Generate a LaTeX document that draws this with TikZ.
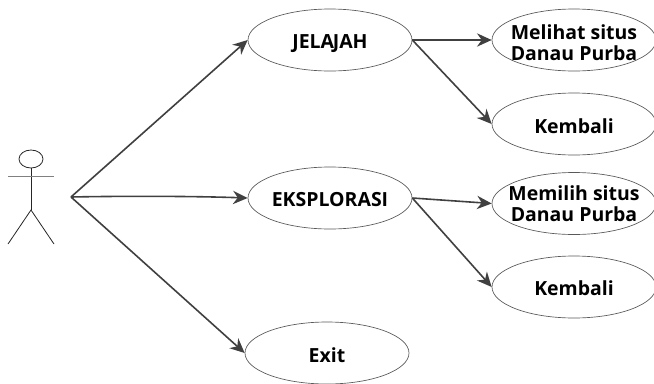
\documentclass[tikz,border=0pt]{standalone}
\usepackage{fontspec}
\setmainfont{Open Sans}
\usetikzlibrary{shapes.geometric,arrows.meta}
\newcommand{\lowtext}[2]{\rule{0pt}{#1pt}#2}
\tikzset{
  usecase/.style={ellipse,draw=black!65,line width=0.5pt,fill=white,inner sep=-18pt,minimum width=123pt,minimum height=46.5pt,align=center,font=\fontsize{14.6}{15.8}\selectfont\bfseries,text=black},
  flow/.style={draw=black!75,line width=1.2pt,-{Stealth[length=11pt,width=10pt]}},
  stick/.style={draw=black!85,line width=0.6pt}
}
\begin{document}
\begin{tikzpicture}[x=0.75pt,y=-0.75pt]
\useasboundingbox (0,0) rectangle (654,383);
\node[usecase] (jelajah) at (330,40) {\lowtext{15.5}{JELA\kern-1pt JAH}};
\node[usecase] (melihat) at (574,40) {\rule{0pt}{14.5pt}Melihat situs\\Danau Purba};
\node[usecase] (kembalia) at (574,124) {\lowtext{15}{Kembali}};
\node[usecase] (eksplorasi) at (330,198) {\lowtext{13.5}{EKSPLORASI}};
\node[usecase] (memilih) at (574,203.5) {\rule{0pt}{12pt}Memilih situs\\Danau Purba};
\node[usecase] (kembalib) at (574,287) {\lowtext{13}{Kembali}};
\node[usecase] (exit) at (327,353) {\lowtext{14}{Exit}};
\node[ellipse,stick,fill=white,inner sep=0pt,minimum width=18pt,minimum height=13.5pt] (head) at (31,159) {};
\coordinate (hip) at (31,210);
\coordinate (armL) at (8,176);
\coordinate (armR) at (54,176);
\coordinate (legL) at (8,244);
\coordinate (legR) at (54,244);
\coordinate (src) at (71,197);
\draw[stick] (head.south) -- (hip);
\draw[draw=black!50,line width=0.7pt] (armL) -- (armR);
\draw[stick] (legL) -- (hip) -- (legR);
\draw[flow] (src) -- (jelajah.west);
\draw[flow] (src) .. controls (120,196) and (190,196) .. (eksplorasi.west);
\draw[flow] (src) -- (exit.west);
\draw[flow] (jelajah.east) -- (melihat.west);
\draw[flow] (jelajah.east) -- (kembalia.west);
\draw[flow] (eksplorasi.east) -- (memilih.west);
\draw[flow] (eksplorasi.east) -- (kembalib.west);
\end{tikzpicture}
\end{document}
